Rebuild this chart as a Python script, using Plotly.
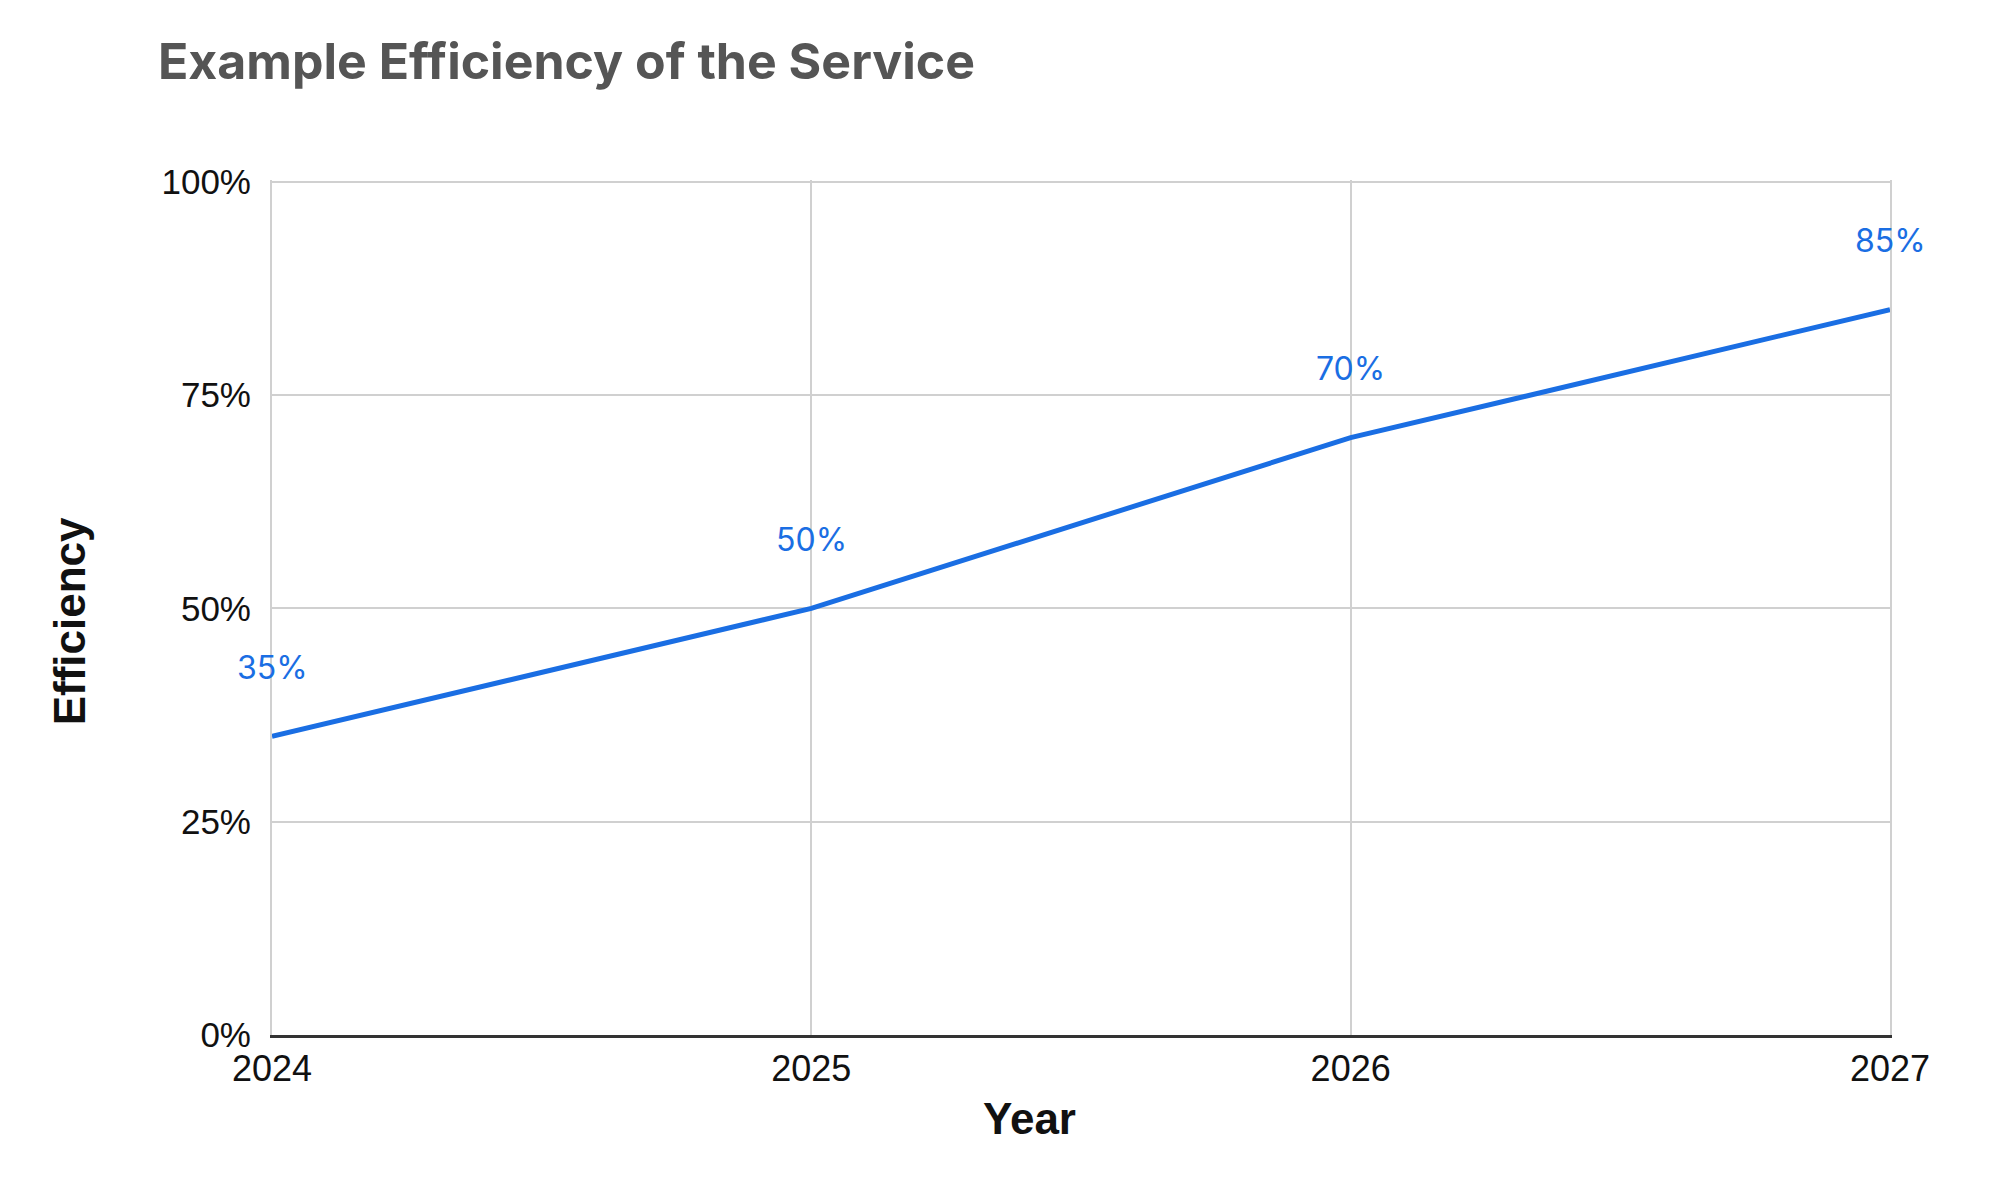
import plotly.graph_objects as go

years = [2024, 2025, 2026, 2027]
efficiency = [35, 50, 70, 85]
y_ticks = [0, 25, 50, 75, 100]
y_tick_labels = ["0%", "25%", "50%", "75%", "100%"]
x_tick_labels = ["2024", "2025", "2026", "2027"]

blue = "#1a6ee3"
axis_font = "Liberation Sans, Arial, sans-serif"

fig = go.Figure()
fig.add_trace(go.Scatter(
    x=years, y=efficiency, mode="lines",
    line=dict(color=blue, width=5),
    hoverinfo="skip", showlegend=False,
))

for xv, yv in zip(years, efficiency):
    fig.add_annotation(
        x=xv, y=yv, text=f"{yv}%", showarrow=False,
        yshift=69, yanchor="middle", xanchor="center",
        font=dict(family="Inter, Roboto, sans-serif", size=32, color=blue),
    )

# axis titles (placed as in the reference, Year slightly left of center)
fig.add_annotation(
    text="<b>Year</b>", xref="paper", yref="paper", x=0.468, y=-0.098,
    xanchor="center", yanchor="middle", showarrow=False,
    font=dict(family=axis_font, size=44, color="#111111"),
)
fig.add_annotation(
    text="<b>Efficiency</b>", xref="paper", yref="paper", x=-0.125, y=0.4835,
    xanchor="center", yanchor="middle", showarrow=False, textangle=-90,
    font=dict(family=axis_font, size=44, color="#111111"),
)

fig.update_layout(
    width=1999, height=1177,
    margin=dict(l=264, r=117, t=172, b=150),
    paper_bgcolor="white", plot_bgcolor="white",
    title=dict(
        text="<b>Example Efficiency of the Service</b>",
        x=150 / 1999, xanchor="left", xref="container",
        y=1 - 53 / 1177, yanchor="middle", yref="container",
        font=dict(family="Inter, Roboto, sans-serif", size=50, color="#555555"),
    ),
    xaxis=dict(
        range=[2024, 2027], tickvals=years, ticktext=x_tick_labels,
        showgrid=True, gridcolor="#d0d0d0", gridwidth=2,
        showline=True, linecolor="#333333", linewidth=3,
        zeroline=False, ticks="",
        tickfont=dict(family=axis_font, size=36, color="#111111"),
    ),
    yaxis=dict(
        range=[0, 100.2], tickvals=y_ticks, ticktext=y_tick_labels,
        showgrid=True, gridcolor="#d0d0d0", gridwidth=2,
        zeroline=False, ticks="",
        showline=True, mirror=True, linecolor="#d0d0d0", linewidth=2,
        ticklabelstandoff=12,
        tickfont=dict(family=axis_font, size=35, color="#111111"),
    ),
)

fig.write_html("out.html")
